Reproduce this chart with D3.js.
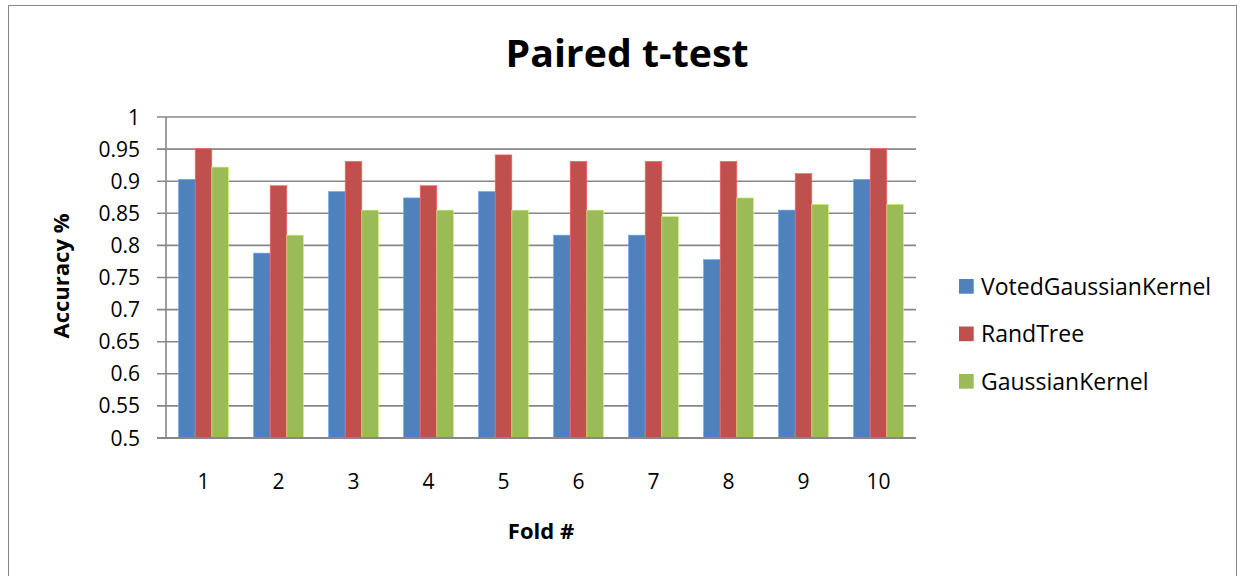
<!DOCTYPE html>
<html><head><meta charset="utf-8">
<script src="https://cdn.jsdelivr.net/npm/d3@7"></script>
<style>body{margin:0;background:#fff;} svg{display:block;}</style>
</head><body>
<script>
const folds = ["1","2","3","4","5","6","7","8","9","10"];
const seriesNames = ["VotedGaussianKernel","RandTree","GaussianKernel"];
const votedGaussianKernel = [0.903,0.788,0.884,0.874,0.884,0.816,0.816,0.778,0.855,0.903];
const randTree = [0.951,0.893,0.931,0.893,0.941,0.931,0.931,0.931,0.912,0.951];
const gaussianKernel = [0.922,0.816,0.855,0.855,0.855,0.855,0.845,0.874,0.864,0.864];
const yTicks = [0.5,0.55,0.6,0.65,0.7,0.75,0.8,0.85,0.9,0.95,1];
const colors = ["#4F81BD","#C0504D","#9BBB59"];
const seriesValues = [votedGaussianKernel, randTree, gaussianKernel];

const W=1241,H=576;
const svg=d3.select("body").append("svg").attr("width",W).attr("height",H);
const font="'Open Sans', Calibri, sans-serif";

svg.append("rect").attr("x",8.5).attr("y",5.5).attr("width",1228).attr("height",600)
  .attr("fill","#fff").attr("stroke","#868686").attr("stroke-width",1);

const L=166,R=916,T=117,B=438;
const x=d3.scaleBand().domain(folds).range([L,R]).paddingInner(1/3).paddingOuter(1/6);
const xs=d3.scaleBand().domain(seriesNames).range([0,x.bandwidth()]);
const y=d3.scaleLinear().domain([0.5,1]).range([B,T]);

// gridlines
svg.append("g").selectAll("line").data(yTicks).join("line")
  .attr("x1",L-9).attr("x2",R).attr("y1",d=>y(d)).attr("y2",d=>y(d))
  .attr("stroke","#878787").attr("stroke-width",1.6);
// y axis line
svg.append("line").attr("x1",L).attr("x2",L).attr("y1",T).attr("y2",B)
  .attr("stroke","#878787").attr("stroke-width",1.6);

// y tick labels
svg.append("g").selectAll("text").data(yTicks).join("text")
  .attr("x",140).attr("y",d=>y(d)).attr("dy","0.36em").attr("text-anchor","end")
  .attr("font-family",font).attr("font-size",21).attr("fill","#000")
  .text(d=>d3.format("")(+d.toFixed(2)));

// bars
seriesNames.forEach((s,si)=>{
  svg.append("g").selectAll("rect").data(seriesValues[si]).join("rect")
    .attr("x",(d,i)=>x(folds[i])+xs(s))
    .attr("width",xs.bandwidth())
    .attr("y",d=>y(d))
    .attr("height",d=>B-y(d))
    .attr("fill",colors[si])
    .attr("stroke",d3.color(colors[si]).brighter(0.8)).attr("stroke-width",0.6);
});
// bottom axis line over bars
svg.append("line").attr("x1",L-9).attr("x2",R).attr("y1",B).attr("y2",B)
  .attr("stroke","#878787").attr("stroke-width",1.8);

// x labels
svg.append("g").selectAll("text").data(folds).join("text")
  .attr("x",d=>x(d)+x.bandwidth()/2).attr("y",481).attr("dy","0.36em")
  .attr("text-anchor","middle").attr("font-family",font).attr("font-size",21).attr("fill","#000")
  .text(d=>d);

// title
svg.append("text").attr("x",627).attr("y",67).attr("text-anchor","middle")
  .attr("font-family",font).attr("font-weight","bold").attr("font-size",37).attr("fill","#000")
  .attr("textLength",243).attr("lengthAdjust","spacingAndGlyphs")
  .text("Paired t-test");
// axis titles
svg.append("text").attr("x",541).attr("y",539).attr("text-anchor","middle")
  .attr("font-family",font).attr("font-weight","bold").attr("font-size",22).attr("fill","#000")
  .text("Fold #");
svg.append("text").attr("transform","translate(69,276) rotate(-90)").attr("text-anchor","middle")
  .attr("font-family",font).attr("font-weight","bold").attr("font-size",22).attr("fill","#000")
  .text("Accuracy %");

// legend
const leg=svg.append("g").selectAll("g").data(seriesNames).join("g")
  .attr("transform",(d,i)=>`translate(959,${286.3+i*47.5})`);
leg.append("rect").attr("x",0).attr("y",-7.3).attr("width",14.7).attr("height",14.7)
  .attr("fill",(d,i)=>colors[i]);
leg.append("text").attr("x",22).attr("y",0).attr("dy","0.36em")
  .attr("font-family",font).attr("font-size",23).attr("fill","#000").text(d=>d);
</script>
</body></html>
